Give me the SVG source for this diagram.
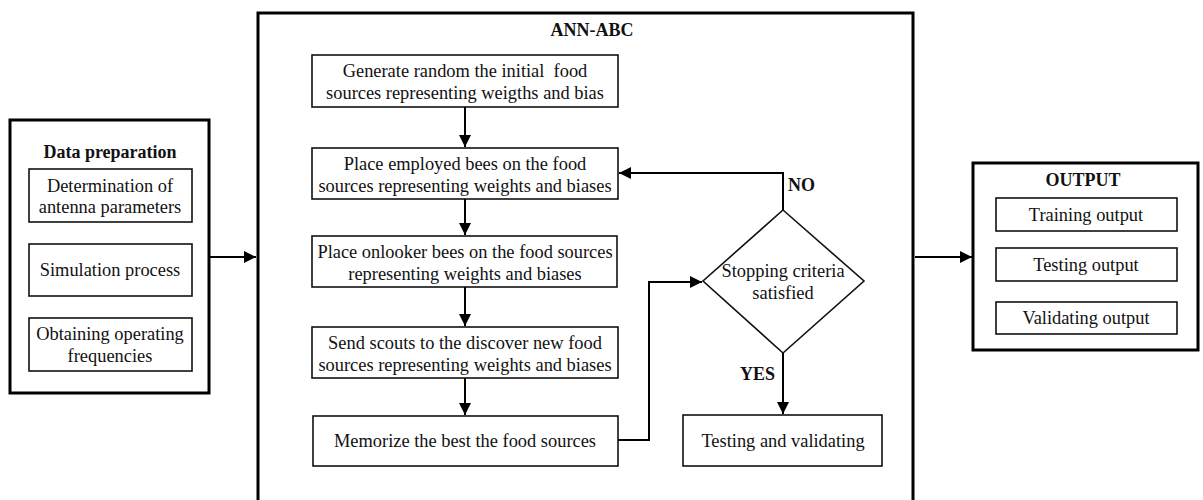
<svg xmlns="http://www.w3.org/2000/svg" width="1203" height="500" viewBox="0 0 1203 500">
<style>
.t{font-family:"Liberation Serif","Times New Roman",serif;font-size:18.4px;fill:#111;text-anchor:middle}
.b{font-weight:bold;font-size:18px}
.box{fill:#fff;stroke:#111;stroke-width:1.6}
.outer{fill:#fff;stroke:#000;stroke-width:3}
.c{fill:none;stroke:#000;stroke-width:2}
</style>
<defs>
<marker id="ah" viewBox="0 0 12 12" refX="12" refY="6" markerWidth="12" markerHeight="12" markerUnits="userSpaceOnUse" orient="auto">
<path d="M0,0 L12,6 L0,12 Z" fill="#000"/>
</marker>
</defs>
<rect width="1203" height="500" fill="#fff"/>

<g id="data-preparation">
<rect class="outer" x="10" y="120" width="199" height="273"/>
<text class="t b" x="110" y="158">Data preparation</text>
<rect class="box" x="29" y="169" width="163" height="53"/>
<text class="t" x="110" y="192">Determination of</text>
<text class="t" x="110" y="213">antenna parameters</text>
<rect class="box" x="29" y="244" width="163" height="52"/>
<text class="t" x="110" y="276">Simulation process</text>
<rect class="box" x="29" y="318" width="163" height="53"/>
<text class="t" x="110" y="340">Obtaining operating</text>
<text class="t" x="110" y="362">frequencies</text>
</g>

<g id="ann-abc">
<rect class="outer" x="258" y="13" width="655" height="500"/>
<text class="t b" x="592" y="36">ANN-ABC</text>
</g>

<g id="generate">
<rect class="box" x="312" y="55" width="306" height="52"/>
<text class="t" x="465" y="77" xml:space="preserve">Generate random the initial  food</text>
<text class="t" x="465" y="99">sources representing weigths and bias</text>
</g>
<g id="employed">
<rect class="box" x="312" y="148" width="306" height="51"/>
<text class="t" x="465" y="170">Place employed bees on the food</text>
<text class="t" x="465" y="192">sources representing weights and biases</text>
</g>
<g id="onlooker">
<rect class="box" x="312" y="236" width="305" height="51"/>
<text class="t" x="465" y="258">Place onlooker bees on the food sources</text>
<text class="t" x="465" y="280">representing weights and biases</text>
</g>
<g id="scouts">
<rect class="box" x="312" y="327" width="306" height="51"/>
<text class="t" x="465" y="349">Send scouts to the discover new food</text>
<text class="t" x="465" y="371">sources representing weights and biases</text>
</g>
<g id="memorize">
<rect class="box" x="313" y="416" width="305" height="50"/>
<text class="t" x="465" y="447">Memorize the best the food sources</text>
</g>
<g id="stopping">
<polygon class="box" points="783,210 864,281 783,353 703,281"/>
<text class="t" x="783" y="277">Stopping criteria</text>
<text class="t" x="783" y="299">satisfied</text>
</g>
<g id="testing">
<rect class="box" x="683" y="415" width="199" height="51"/>
<text class="t" x="783" y="447">Testing and validating</text>
</g>

<g id="output">
<rect class="outer" x="973" y="163" width="225" height="187"/>
<text class="t b" x="1083" y="186">OUTPUT</text>
<rect class="box" x="996" y="198" width="181" height="33"/>
<text class="t" x="1086" y="221">Training output</text>
<rect class="box" x="996" y="248" width="181" height="33"/>
<text class="t" x="1086" y="271">Testing output</text>
<rect class="box" x="996" y="302" width="181" height="32"/>
<text class="t" x="1086" y="324">Validating output</text>
</g>

<g id="connectors">
<path class="c" d="M209,257 H256" marker-end="url(#ah)"/>
<path class="c" d="M465,107 V147" marker-end="url(#ah)"/>
<path class="c" d="M465,199 V235" marker-end="url(#ah)"/>
<path class="c" d="M465,287 V326" marker-end="url(#ah)"/>
<path class="c" d="M465,378 V415" marker-end="url(#ah)"/>
<path class="c" d="M618,440 H649 V282 H702" marker-end="url(#ah)"/>
<path class="c" d="M783,210 V173 H619" marker-end="url(#ah)"/>
<path class="c" d="M783,353 V414" marker-end="url(#ah)"/>
<path class="c" d="M915,257 H972" marker-end="url(#ah)"/>
<text class="t b" x="788" y="191" style="text-anchor:start">NO</text>
<text class="t b" x="775" y="380" style="text-anchor:end">YES</text>
</g>
</svg>
